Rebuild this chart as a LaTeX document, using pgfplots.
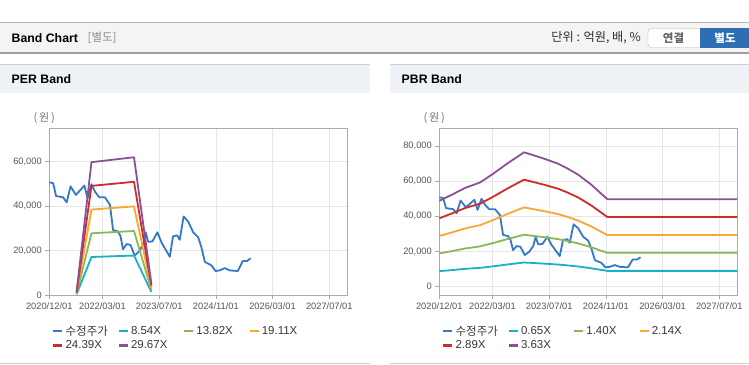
\documentclass[border=0pt]{standalone}
\usepackage{pgfplots}
\usepackage{pgfplotstable}
\pgfplotsset{compat=1.18}
\usepackage{fontspec}
\setmainfont{Liberation Sans}
\newfontfamily\kr{Noto Sans CJK KR}
\definecolor{cPrice}{RGB}{52,120,200}
\definecolor{cA}{RGB}{29,176,196}
\definecolor{cB}{RGB}{141,183,87}
\definecolor{cC}{RGB}{246,168,51}
\definecolor{cD}{RGB}{207,43,43}
\definecolor{cE}{RGB}{140,80,150}
\definecolor{tickgray}{RGB}{85,85,85}
\definecolor{gridgray}{RGB}{230,230,230}
\definecolor{boxgray}{RGB}{170,170,170}
\definecolor{hdrfill}{RGB}{244,244,244}
\definecolor{panelfill}{RGB}{238,242,247}
\definecolor{btnblue}{RGB}{46,110,180}

\pgfplotstableread{
m v
0 50800
1.1 50300
1.9 44600
3.9 44000
4.9 41700
6 48900
7.5 45100
8.6 47000
9.9 49300
10.8 43600
11.9 49900
12.9 46500
14.1 44000
15.7 44000
17.1 40700
18 29300
19.4 28700
20.1 26500
20.8 20700
21.8 23000
22.9 22600
24.1 17900
25.4 19800
26.5 23000
27.2 28300
27.9 24000
29.1 24200
30.5 28300
31.7 23600
32.9 20300
34 17300
34.9 26500
36.1 26900
36.8 24900
37.9 35400
39.2 33100
40.6 28300
42 26100
42.9 21700
43.9 15000
45.7 13500
46.9 10900
48.1 11200
49.5 12200
50.9 11200
53.2 10900
54.6 15400
55.8 15400
56.8 16600
}\price

\pgfplotstableread{
m a b c d e
7.7 427 691 956 1220 1484
11.9 17208 27847 38507 49146 59785
23.9 17849 28884 39940 50975 62010
28.8 1537 2488 3440 4390 5341
}\perband

\pgfplotstableread{
m a b c d e
0 8730 18802 28740 38813 48751
3.5 9341 20118 30752 41529 52163
7.2 10030 21602 33020 44593 56011
11.5 10602 22834 34903 47136 59205
14.8 11388 24528 37493 50633 63598
19.4 12584 27104 41430 55950 70277
23.9 13670 29442 45004 60777 76339
26 13436 28938 44234 59736 75032
29.8 12994 27986 42779 57771 72564
33.5 12513 26950 41195 55633 69878
35.9 12077 26012 39761 53696 67445
39.2 11388 24528 37493 50633 63598
42.9 10368 22330 34133 46096 57899
47.4 8899 19166 29297 39564 49695
84 8899 19166 29297 39564 49695
}\pbrband

\newcommand{\lgE}[1]{\makebox[50pt][l]{#1}}

\pgfplotsset{bandaxis/.style={
  scale only axis, width=297.7pt, height=167pt,
  xmin=0, xmax=84,
  xtick={0,15,31,47,63,79},
  xticklabels={2020/12/01,2022/03/01,2023/07/01,2024/11/01,2026/03/01,2027/07/01},
  grid=major, major grid style={gridgray, line width=0.7pt},
  axis line style={boxgray, line width=0.9pt},
  tick style={boxgray, line width=0.7pt},
  tick align=outside, major tick length=4pt,
  xtick pos=bottom, ytick pos=left,
  ticklabel style={font=\fontsize{9.3}{10}\selectfont, text=tickgray},
  yticklabel style={/pgf/number format/1000 sep={,}, /pgf/number format/assume math mode=true},
  scaled y ticks=false,
  legend columns=4,
  legend cell align=left,
  legend image code/.code={\draw[##1, line width=2.4pt] (0pt,0pt) -- (9pt,0pt);},
  legend style={draw=none, fill=none, at={(0,0)}, anchor=north west, xshift=-0.3pt, yshift=-26pt,
    font=\fontsize{11.5}{13}\selectfont, text=black!78, row sep=0.3pt,
    /tikz/every even column/.append style={column sep=0pt}},
  every axis plot/.append style={line width=1.8pt, line join=round},
}}

\begin{document}
\begin{tikzpicture}
\path[use as bounding box] (0,0) rectangle (749pt,-364pt);
\fill[white] (0,0) rectangle (749pt,-364pt);
% top header
\fill[hdrfill] (0,-22.5pt) rectangle (749pt,-52.5pt);
\draw[black!28, line width=1pt] (0,-22.5pt) -- (749pt,-22.5pt);
\draw[black!38, line width=1.2pt] (0,-53pt) -- (749pt,-53pt);
\node[anchor=west, inner sep=0pt, font=\bfseries\fontsize{12.3}{14}\selectfont] at (11.5pt,-38pt) {Band Chart};
\node[anchor=west, inner sep=0pt, font=\kr\fontsize{11.5}{13}\selectfont, text=black!45] at (87.5pt,-38pt) {[별도]};
\node[anchor=east, inner sep=0pt, font=\kr\fontsize{12.2}{13}\selectfont, text=black!82] at (641pt,-38pt) {단위 : 억원, 배, \%};
\draw[fill=white, draw=black!30, rounded corners=3pt] (648pt,-28.5pt) rectangle (706pt,-47.5pt);
\fill[btnblue] (700pt,-28.3pt) rectangle (749pt,-47.7pt);
\node[font=\kr\bfseries\fontsize{11.5}{13}\selectfont, text=black!60] at (673.5pt,-38pt) {연결};
\node[font=\kr\bfseries\fontsize{11.5}{13}\selectfont, text=white] at (725pt,-38pt) {별도};
% panel headers
\fill[panelfill] (0,-64.5pt) rectangle (370pt,-92.5pt);
\draw[black!18, line width=0.8pt] (0,-64.5pt) -- (370pt,-64.5pt);
\fill[panelfill] (390pt,-64.5pt) rectangle (749pt,-92.5pt);
\draw[black!18, line width=0.8pt] (390pt,-64.5pt) -- (749pt,-64.5pt);
\node[anchor=west, inner sep=0pt, font=\bfseries\fontsize{12.3}{14}\selectfont] at (11.5pt,-79pt) {PER Band};
\node[anchor=west, inner sep=0pt, font=\bfseries\fontsize{12.3}{14}\selectfont] at (401.5pt,-79pt) {PBR Band};
\draw[black!20, line width=1pt] (0,-363pt) -- (370pt,-363pt);
\draw[black!20, line width=1pt] (390pt,-363pt) -- (749pt,-363pt);
\node[font=\kr\fontsize{11}{12}\selectfont, text=black!55] at (44.2pt,-118.3pt) {(\,원\,)};
\node[font=\kr\fontsize{11}{12}\selectfont, text=black!55] at (434.2pt,-118.3pt) {(\,원\,)};

\begin{axis}[bandaxis, at={(49.3pt,-295.3pt)}, anchor=south west,
  ymin=0, ymax=75000, ytick={0,20000,40000,60000}]
\addplot[cPrice] table[x=m,y=v]{\price};
\addplot[cA] table[x=m,y=a]{\perband};
\addplot[cB] table[x=m,y=b]{\perband};
\addplot[cC] table[x=m,y=c]{\perband};
\addplot[cD] table[x=m,y=d]{\perband};
\addplot[cE] table[x=m,y=e]{\perband};
\legend{\lgE{\kr 수정주가},\lgE{8.54X},\lgE{13.82X},\lgE{19.11X},\lgE{24.39X},\lgE{29.67X}}
\end{axis}

\begin{axis}[bandaxis, at={(439.3pt,-295.3pt)}, anchor=south west,
  ymin=-5000, ymax=90000, ytick={0,20000,40000,60000,80000}]
\addplot[cPrice] table[x=m,y=v]{\price};
\addplot[cA] table[x=m,y=a]{\pbrband};
\addplot[cB] table[x=m,y=b]{\pbrband};
\addplot[cC] table[x=m,y=c]{\pbrband};
\addplot[cD] table[x=m,y=d]{\pbrband};
\addplot[cE] table[x=m,y=e]{\pbrband};
\legend{\lgE{\kr 수정주가},\lgE{0.65X},\lgE{1.40X},\lgE{2.14X},\lgE{2.89X},\lgE{3.63X}}
\end{axis}
\end{tikzpicture}
\end{document}
